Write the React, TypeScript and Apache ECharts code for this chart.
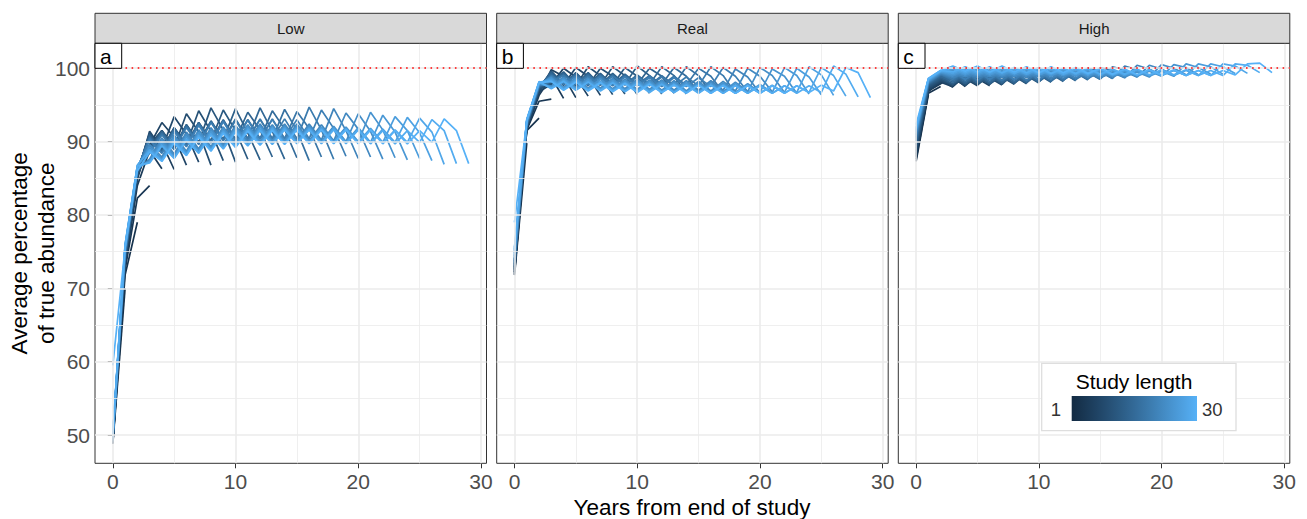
import React, { useEffect, useRef } from "react";
import * as echarts from "echarts";

// ---------- data ----------
const panelNames = ["Low", "Real", "High"];
const panelTags = ["a", "b", "c"];
const xMajor = [0, 10, 20, 30];
const xMinor = [5, 15, 25];
const yMajor = [50, 60, 70, 80, 90, 100];
const yMinor = [55, 65, 75, 85, 95];
const referenceLevel = 100;
const legendTitle = "Study length";
const legendRange = [1, 30];

// each row = one study length (1..30); value index = years from end of study
const lowLines: number[][] = [
  [48.8],
  [48.8, 70.0],
  [48.9, 71.8, 79.0],
  [49.0, 72.5, 82.3, 84.0],
  [49.0, 73.0, 84.0, 88.8, 86.3],
  [49.1, 73.4, 84.8, 90.8, 89.8, 86.2],
  [49.0, 73.6, 85.2, 89.5, 92.6, 90.6, 86.8],
  [49.2, 73.8, 85.5, 91.4, 89.0, 93.4, 91.0, 87.2],
  [49.1, 74.0, 85.4, 89.6, 91.5, 89.2, 93.8, 91.3, 86.8],
  [49.3, 74.2, 85.8, 91.2, 88.8, 91.9, 89.6, 94.2, 91.4, 87.4],
  [49.2, 74.0, 85.6, 89.3, 91.5, 89.2, 92.3, 89.9, 94.6, 91.6, 87.2],
  [49.4, 74.4, 86.0, 91.0, 88.8, 91.9, 89.6, 92.6, 90.1, 94.3, 91.5, 87.6],
  [49.3, 74.3, 85.9, 89.0, 91.4, 89.2, 92.3, 89.9, 92.8, 90.3, 94.5, 91.2, 87.5],
  [49.5, 74.6, 86.1, 90.8, 88.7, 91.8, 89.6, 92.6, 90.1, 93.0, 90.3, 94.0, 91.6, 87.9],
  [49.4, 74.5, 86.0, 88.8, 91.3, 89.1, 92.2, 89.8, 92.8, 90.2, 93.1, 90.4, 94.6, 91.4, 87.6],
  [49.6, 74.8, 86.2, 90.6, 88.6, 91.7, 89.5, 92.5, 90.0, 92.9, 90.3, 93.0, 90.4, 94.2, 91.7, 87.8],
  [49.5, 74.7, 86.1, 88.6, 91.1, 89.0, 92.1, 89.7, 92.7, 90.2, 93.0, 90.3, 93.1, 90.4, 94.4, 91.5, 87.4],
  [49.7, 75.0, 86.3, 90.4, 88.5, 91.5, 89.4, 92.4, 89.9, 92.8, 90.2, 93.0, 90.4, 93.1, 90.4, 94.1, 91.8, 87.9],
  [49.6, 74.9, 86.2, 88.4, 90.9, 88.9, 91.9, 89.6, 92.6, 90.1, 92.9, 90.3, 93.0, 90.4, 93.1, 90.4, 94.7, 91.6, 87.6],
  [49.8, 75.2, 86.4, 90.2, 88.4, 91.3, 89.3, 92.2, 89.8, 92.7, 90.1, 92.9, 90.3, 93.0, 90.4, 93.0, 90.4, 94.3, 91.8, 88.0],
  [49.7, 75.1, 86.3, 87.6, 90.5, 88.3, 91.3, 89.0, 91.9, 89.6, 92.2, 90.0, 92.4, 90.1, 92.4, 90.1, 92.4, 90.2, 94.5, 91.5, 87.7],
  [49.9, 75.4, 86.5, 89.6, 87.9, 90.9, 88.7, 91.6, 89.3, 92.0, 89.8, 92.3, 90.0, 92.3, 90.1, 92.4, 90.1, 92.3, 90.1, 93.9, 91.7, 87.9],
  [49.8, 75.3, 86.4, 87.4, 90.2, 88.1, 91.0, 88.8, 91.7, 89.4, 92.0, 89.8, 92.2, 90.0, 92.2, 90.0, 92.2, 90.0, 92.1, 90.0, 93.8, 91.4, 87.6],
  [50.0, 75.6, 86.6, 89.3, 87.7, 90.6, 88.5, 91.3, 89.1, 91.8, 89.6, 92.1, 89.9, 92.1, 90.0, 92.1, 90.0, 92.0, 90.0, 92.0, 90.0, 94.0, 91.6, 87.8],
  [49.9, 75.5, 86.5, 87.3, 89.9, 87.9, 90.7, 88.6, 91.4, 89.2, 91.8, 89.6, 92.0, 89.8, 92.0, 89.9, 92.0, 89.9, 91.9, 89.9, 91.9, 89.9, 93.6, 91.3, 87.5],
  [50.1, 75.8, 86.7, 89.0, 87.5, 90.3, 88.3, 91.0, 88.9, 91.5, 89.4, 91.8, 89.7, 91.9, 89.8, 91.9, 89.9, 91.9, 89.9, 91.8, 89.9, 91.8, 89.9, 93.4, 91.5, 87.7],
  [50.0, 75.7, 86.6, 87.2, 89.6, 87.8, 90.4, 88.5, 91.1, 89.1, 91.5, 89.5, 91.7, 89.7, 91.8, 89.8, 91.8, 89.8, 91.8, 89.8, 91.7, 89.8, 91.7, 89.9, 93.3, 91.2, 87.4],
  [50.2, 76.0, 86.8, 88.8, 87.4, 90.0, 88.2, 90.8, 88.8, 91.3, 89.3, 91.6, 89.6, 91.7, 89.7, 91.7, 89.8, 91.7, 89.8, 91.7, 89.8, 91.6, 89.8, 91.6, 89.9, 93.2, 91.3, 86.9],
  [50.1, 75.9, 86.7, 87.1, 89.4, 87.7, 90.2, 88.4, 90.9, 89.0, 91.3, 89.4, 91.5, 89.6, 91.6, 89.7, 91.6, 89.7, 91.6, 89.7, 91.6, 89.7, 91.5, 89.7, 91.5, 89.9, 93.0, 91.5, 87.0],
  [59.5, 75.5, 86.0, 88.6, 87.3, 89.8, 88.1, 90.6, 88.7, 91.1, 89.2, 91.4, 89.5, 91.5, 89.6, 91.6, 89.7, 91.6, 89.7, 91.6, 89.7, 91.6, 89.7, 91.5, 89.7, 91.5, 89.9, 93.1, 91.5, 87.0],
];

const realLines: number[][] = [
  [71.8],
  [71.8, 89.8],
  [72.0, 91.5, 93.2],
  [72.2, 91.6, 95.5, 95.8],
  [72.3, 91.7, 96.3, 98.8, 95.9],
  [72.5, 91.8, 96.6, 99.8, 98.9, 96.0],
  [72.6, 91.9, 96.8, 97.8, 100.0, 98.8, 96.2],
  [72.7, 92.0, 97.0, 99.4, 97.7, 100.1, 98.9, 96.3],
  [72.8, 92.0, 97.1, 97.9, 99.3, 97.6, 100.2, 99.0, 96.4],
  [72.9, 92.1, 97.2, 99.5, 97.7, 99.3, 97.6, 100.0, 98.9, 96.5],
  [73.0, 92.1, 97.3, 98.0, 99.4, 97.6, 99.3, 97.7, 100.2, 99.0, 96.4],
  [73.1, 92.2, 97.3, 99.6, 97.8, 99.4, 97.7, 99.3, 97.7, 100.1, 98.9, 96.6],
  [73.2, 92.2, 97.4, 98.1, 99.5, 97.7, 99.4, 97.7, 99.3, 97.8, 100.3, 99.0, 96.5],
  [73.3, 92.3, 97.4, 99.4, 97.9, 99.3, 97.8, 99.2, 97.8, 99.2, 97.8, 100.0, 98.9, 96.6],
  [73.4, 92.3, 97.5, 98.2, 99.3, 97.8, 99.2, 97.8, 99.1, 97.8, 99.1, 97.8, 100.2, 99.0, 96.5],
  [73.5, 92.4, 97.5, 99.2, 97.9, 99.2, 97.8, 99.1, 97.8, 99.1, 97.8, 99.0, 97.8, 100.1, 98.9, 96.7],
  [73.6, 92.4, 97.6, 98.2, 99.1, 97.8, 99.1, 97.8, 99.0, 97.8, 99.0, 97.7, 99.0, 97.7, 100.2, 99.0, 96.6],
  [73.7, 92.5, 97.6, 99.0, 97.9, 99.0, 97.8, 99.0, 97.7, 98.9, 97.7, 98.9, 97.7, 98.9, 97.7, 100.0, 98.9, 96.7],
  [73.8, 92.5, 97.7, 98.2, 99.0, 97.8, 98.9, 97.7, 98.9, 97.7, 98.8, 97.6, 98.8, 97.6, 98.8, 97.6, 100.2, 99.0, 96.6],
  [73.9, 92.6, 97.7, 98.9, 97.8, 98.9, 97.7, 98.8, 97.6, 98.8, 97.6, 98.7, 97.5, 98.7, 97.5, 98.7, 97.5, 100.1, 98.9, 96.8],
  [74.0, 92.6, 97.8, 97.6, 98.8, 97.4, 98.7, 97.3, 98.6, 97.2, 98.5, 97.1, 98.4, 97.0, 98.3, 97.0, 98.3, 97.0, 99.9, 98.8, 96.6],
  [74.2, 92.7, 97.8, 98.8, 97.4, 98.7, 97.3, 98.6, 97.2, 98.5, 97.1, 98.4, 97.0, 98.3, 96.9, 98.2, 96.9, 98.2, 96.9, 100.0, 98.9, 96.8],
  [74.4, 92.7, 97.9, 97.5, 98.7, 97.3, 98.6, 97.2, 98.5, 97.1, 98.4, 97.0, 98.3, 96.9, 98.2, 96.8, 98.1, 96.8, 98.1, 96.8, 100.1, 99.0, 96.7],
  [74.6, 92.8, 97.9, 98.7, 97.3, 98.6, 97.2, 98.5, 97.1, 98.3, 97.0, 98.2, 96.9, 98.1, 96.8, 98.0, 96.7, 98.0, 96.7, 97.9, 96.7, 99.9, 98.9, 96.6],
  [74.8, 92.8, 98.0, 97.4, 98.5, 97.2, 98.4, 97.1, 98.3, 97.0, 98.2, 96.9, 98.1, 96.8, 98.0, 96.7, 97.9, 96.7, 97.9, 96.7, 97.8, 96.7, 100.1, 99.0, 96.5],
  [75.0, 92.9, 98.0, 98.5, 97.2, 98.4, 97.1, 98.2, 97.0, 98.1, 96.9, 98.0, 96.8, 97.9, 96.7, 97.8, 96.7, 97.8, 96.6, 97.7, 96.6, 97.7, 96.7, 100.0, 98.8, 96.4],
  [75.2, 92.9, 98.1, 97.3, 98.3, 97.1, 98.2, 97.0, 98.1, 96.9, 98.0, 96.8, 97.9, 96.7, 97.8, 96.7, 97.7, 96.6, 97.7, 96.6, 97.6, 96.6, 97.6, 96.7, 100.2, 99.1, 96.3],
  [75.4, 93.0, 98.1, 98.3, 97.1, 98.2, 97.0, 98.1, 96.9, 98.0, 96.8, 97.9, 96.7, 97.8, 96.7, 97.7, 96.6, 97.7, 96.6, 97.6, 96.6, 97.6, 96.6, 97.6, 96.7, 100.1, 99.0, 96.2],
  [75.6, 93.0, 98.2, 97.2, 98.2, 97.0, 98.1, 96.9, 98.0, 96.8, 97.9, 96.7, 97.8, 96.7, 97.7, 96.6, 97.7, 96.6, 97.6, 96.6, 97.6, 96.6, 97.6, 96.6, 97.6, 96.7, 100.3, 99.2, 96.1],
  [79.0, 92.8, 98.0, 98.2, 97.0, 98.1, 96.9, 98.0, 96.8, 97.9, 96.7, 97.8, 96.7, 97.7, 96.6, 97.7, 96.6, 97.6, 96.6, 97.6, 96.6, 97.6, 96.6, 97.6, 96.7, 97.7, 96.9, 100.1, 99.4, 96.0],
];

const highLines: number[][] = [
  [87.3],
  [87.3, 96.4],
  [87.6, 96.6, 97.5],
  [87.9, 96.8, 98.4, 97.4],
  [88.1, 96.9, 97.9, 98.9, 97.5],
  [88.3, 97.0, 98.0, 99.0, 98.6, 97.6],
  [88.5, 97.1, 98.1, 97.5, 99.0, 98.6, 97.6],
  [88.7, 97.2, 98.2, 98.6, 97.6, 99.1, 98.7, 97.7],
  [88.9, 97.3, 98.3, 97.7, 98.7, 97.7, 99.2, 98.8, 97.8],
  [89.1, 97.4, 98.4, 98.8, 97.7, 98.8, 97.8, 99.3, 98.9, 97.9],
  [89.3, 97.5, 98.5, 97.8, 98.8, 97.8, 98.9, 97.8, 99.4, 99.0, 98.0],
  [89.5, 97.6, 98.6, 98.9, 97.9, 98.9, 97.9, 98.9, 97.9, 99.5, 99.1, 98.1],
  [89.7, 97.7, 98.7, 97.9, 99.0, 98.0, 99.0, 98.0, 99.0, 98.0, 99.6, 99.2, 98.2],
  [89.9, 97.8, 98.8, 99.1, 98.0, 99.1, 98.0, 99.1, 98.0, 99.1, 98.1, 99.7, 99.3, 98.3],
  [90.1, 97.8, 98.9, 98.1, 99.2, 98.1, 99.2, 98.1, 99.2, 98.1, 99.2, 98.2, 99.8, 99.4, 98.4],
  [90.3, 97.9, 99.0, 99.3, 98.2, 99.2, 98.2, 99.2, 98.2, 99.2, 98.2, 99.3, 98.3, 99.9, 99.5, 98.5],
  [90.5, 98.0, 99.1, 98.3, 99.3, 98.3, 99.3, 98.3, 99.3, 98.3, 99.3, 98.3, 99.3, 98.4, 100.0, 99.6, 98.6],
  [90.6, 98.0, 99.1, 99.4, 98.4, 99.4, 98.4, 99.4, 98.4, 99.4, 98.4, 99.4, 98.4, 99.4, 98.5, 100.1, 99.7, 98.7],
  [90.8, 98.1, 99.2, 98.5, 99.5, 98.4, 99.4, 98.4, 99.4, 98.4, 99.4, 98.5, 99.4, 98.5, 99.4, 98.5, 100.2, 99.8, 98.8],
  [90.9, 98.1, 99.2, 99.5, 98.5, 99.5, 98.5, 99.5, 98.5, 99.5, 98.5, 99.5, 98.6, 99.5, 98.6, 99.5, 98.6, 100.3, 99.8, 98.9],
  [91.0, 98.2, 99.3, 98.7, 99.4, 98.7, 99.4, 98.7, 99.4, 98.7, 99.4, 98.7, 99.4, 98.7, 99.4, 98.7, 99.4, 98.7, 100.4, 99.9, 99.0],
  [91.2, 98.2, 99.3, 99.5, 98.8, 99.5, 98.8, 99.5, 98.8, 99.5, 98.8, 99.5, 98.8, 99.5, 98.8, 99.5, 98.8, 99.5, 98.8, 100.4, 99.9, 99.0],
  [91.3, 98.3, 99.4, 98.9, 99.6, 98.9, 99.6, 98.9, 99.6, 98.9, 99.6, 98.9, 99.6, 98.9, 99.6, 98.8, 99.5, 98.8, 99.5, 98.8, 100.5, 100.0, 99.1],
  [91.4, 98.3, 99.4, 99.7, 99.0, 99.7, 99.0, 99.7, 99.0, 99.7, 99.0, 99.7, 99.0, 99.6, 98.9, 99.6, 98.9, 99.6, 98.9, 99.6, 98.9, 100.5, 100.1, 99.1],
  [91.5, 98.4, 99.5, 99.1, 99.8, 99.1, 99.8, 99.1, 99.8, 99.1, 99.8, 99.0, 99.7, 99.0, 99.7, 99.0, 99.7, 99.0, 99.6, 98.9, 99.6, 98.9, 100.6, 100.1, 99.2],
  [91.6, 98.4, 99.5, 99.9, 99.2, 99.9, 99.2, 99.9, 99.2, 99.9, 99.1, 99.8, 99.1, 99.8, 99.1, 99.8, 99.0, 99.7, 99.0, 99.7, 99.0, 99.7, 99.0, 100.6, 100.2, 99.2],
  [91.7, 98.5, 99.6, 99.3, 100.0, 99.3, 100.0, 99.3, 100.0, 99.2, 99.9, 99.2, 99.9, 99.2, 99.9, 99.1, 99.8, 99.1, 99.8, 99.0, 99.7, 99.0, 99.7, 99.0, 100.6, 100.2, 99.3],
  [91.8, 98.5, 99.6, 100.1, 99.4, 100.1, 99.4, 100.1, 99.3, 100.0, 99.3, 100.0, 99.2, 99.9, 99.2, 99.9, 99.1, 99.8, 99.1, 99.8, 99.0, 99.7, 99.0, 99.7, 99.0, 100.6, 100.3, 99.3],
  [91.9, 98.6, 99.7, 99.5, 100.2, 99.5, 100.2, 99.4, 100.1, 99.4, 100.1, 99.3, 100.0, 99.3, 100.0, 99.2, 99.9, 99.2, 99.9, 99.1, 99.8, 99.1, 99.8, 99.0, 99.7, 99.0, 100.6, 100.4, 99.4],
  [92.3, 98.6, 99.7, 100.3, 99.6, 100.3, 99.5, 100.3, 99.5, 100.2, 99.4, 100.2, 99.4, 100.1, 99.3, 100.0, 99.2, 99.9, 99.1, 99.8, 99.1, 99.8, 99.0, 99.7, 99.0, 99.7, 99.1, 100.6, 100.7, 99.4],
];

const panelData = [lowLines, realLines, highLines];

// ---------- style ----------
const FONT = "'Liberation Sans', Arial, Helvetica, sans-serif";
const LOW_COL = "#132B43";
const HIGH_COL = "#56B1F7";
const GRID_LEFT = [95, 496.7, 898.3];
const GRID_TOP = 43.3;
const GRID_W = 391.5;
const GRID_H = 420;
const STRIP_TOP = 13.3;

function toLab(hex: string): number[] {
  const c = [1, 3, 5].map((i) => parseInt(hex.slice(i, i + 2), 16) / 255);
  const lin = c.map((v) => (v <= 0.04045 ? v / 12.92 : Math.pow((v + 0.055) / 1.055, 2.4)));
  const [R, G, B] = lin;
  const X = (0.4124 * R + 0.3576 * G + 0.1805 * B) / 0.95047;
  const Y = 0.2126 * R + 0.7152 * G + 0.0722 * B;
  const Z = (0.0193 * R + 0.1192 * G + 0.9505 * B) / 1.08883;
  const f = (t: number) => (t > 0.008856 ? Math.cbrt(t) : 7.787 * t + 16 / 116);
  return [116 * f(Y) - 16, 500 * (f(X) - f(Y)), 200 * (f(Y) - f(Z))];
}
function fromLab(lab: number[]): string {
  const [L, a, b] = lab;
  const fy = (L + 16) / 116;
  const fx = fy + a / 500;
  const fz = fy - b / 200;
  const finv = (t: number) => (t * t * t > 0.008856 ? t * t * t : (t - 16 / 116) / 7.787);
  const X = finv(fx) * 0.95047;
  const Y = finv(fy);
  const Z = finv(fz) * 1.08883;
  const rgb = [
    3.2406 * X - 1.5372 * Y - 0.4986 * Z,
    -0.9689 * X + 1.8758 * Y + 0.0415 * Z,
    0.0557 * X - 0.204 * Y + 1.057 * Z,
  ].map((v) => {
    const g = v <= 0.0031308 ? 12.92 * v : 1.055 * Math.pow(v, 1 / 2.4) - 0.055;
    const n = Math.round(Math.max(0, Math.min(1, g)) * 255);
    return n.toString(16).padStart(2, "0");
  });
  return "#" + rgb.join("");
}
const labLo = toLab(LOW_COL);
const labHi = toLab(HIGH_COL);
function colorAt(t: number): string {
  return fromLab(labLo.map((v, i) => v + (labHi[i] - v) * t));
}

export default function App() {
  const ref = useRef<HTMLDivElement>(null);
  useEffect(() => {
    if (!ref.current) return;
    const chart = echarts.init(ref.current, undefined, { renderer: "svg" });

    const grids = panelNames.map((_, i) => ({
      left: GRID_LEFT[i],
      top: GRID_TOP,
      width: GRID_W,
      height: GRID_H,
      show: true,
      backgroundColor: "#ffffff",
      borderColor: "#333333",
      borderWidth: 1,
    }));

    const xAxes = panelNames.map((_, i) => ({
      type: "value",
      gridIndex: i,
      min: -1.45,
      max: 30.45,
      axisLine: { show: false },
      splitLine: { show: false },
      axisTick: { show: true, customValues: xMajor, length: 5, lineStyle: { color: "#333333", width: 1 } },
      axisLabel: { customValues: xMajor, color: "#4d4d4d", fontSize: 21, fontFamily: FONT, margin: 8 },
    }));
    const yAxes = panelNames.map((_, i) => ({
      type: "value",
      gridIndex: i,
      min: 46.15,
      max: 103.4,
      axisLine: { show: false },
      splitLine: { show: false },
      axisTick: { show: i === 0, customValues: yMajor, length: 5, lineStyle: { color: "#333333", width: 1 } },
      axisLabel: { show: i === 0, customValues: yMajor, color: "#4d4d4d", fontSize: 21, fontFamily: FONT, margin: 5 },
    }));

    const series: any[] = [];
    panelNames.forEach((_, p) => {
      const gl = (v: number, axis: string, w: number) => ({
        [axis]: v,
        lineStyle: { color: "#ebebeb", width: w, type: "solid" },
      });
      series.push({
        type: "line",
        xAxisIndex: p,
        yAxisIndex: p,
        data: [],
        silent: true,
        z: 1,
        markLine: {
          silent: true,
          symbol: ["none", "none"],
          label: { show: false },
          animation: false,
          data: [
            ...xMinor.map((v) => gl(v, "xAxis", 0.8)),
            ...yMinor.map((v) => gl(v, "yAxis", 0.8)),
            ...xMajor.map((v) => gl(v, "xAxis", 1.6)),
            ...yMajor.map((v) => gl(v, "yAxis", 1.6)),
          ],
        },
      });
      panelData[p].forEach((vals, li) => {
        const t = li / 29;
        series.push({
          type: "line",
          xAxisIndex: p,
          yAxisIndex: p,
          data: vals.map((v, x) => [x, v]),
          showSymbol: false,
          symbol: "none",
          silent: true,
          z: 2,
          lineStyle: { color: colorAt(t), width: 1.7 },
        });
      });
      series.push({
        type: "line",
        xAxisIndex: p,
        yAxisIndex: p,
        data: [],
        silent: true,
        z: 3,
        markLine: {
          silent: true,
          symbol: ["none", "none"],
          label: { show: false },
          animation: false,
          data: [{ yAxis: referenceLevel, lineStyle: { color: "#ff0000", width: 1.6, type: [1.6, 4.5] } }],
        },
      });
    });

    const graphics: any[] = [];
    panelNames.forEach((name, i) => {
      graphics.push({
        type: "rect",
        z: 10,
        shape: { x: GRID_LEFT[i], y: STRIP_TOP, width: GRID_W, height: GRID_TOP - STRIP_TOP },
        style: { fill: "#d9d9d9", stroke: "#333333", lineWidth: 1 },
      });
      graphics.push({
        type: "text",
        z: 11,
        x: GRID_LEFT[i] + GRID_W / 2,
        y: (STRIP_TOP + GRID_TOP) / 2 + 0.5,
        style: { text: name, fontSize: 15, fontFamily: FONT, fill: "#1a1a1a", align: "center", verticalAlign: "middle" },
      });
      graphics.push({
        type: "rect",
        z: 10,
        shape: { x: GRID_LEFT[i], y: GRID_TOP, width: 26.7, height: 25 },
        style: { fill: "#ffffff", stroke: "#000000", lineWidth: 1 },
      });
      graphics.push({
        type: "text",
        z: 11,
        x: GRID_LEFT[i] + 5,
        y: GRID_TOP + 13,
        style: { text: panelTags[i], fontSize: 21, fontFamily: FONT, fill: "#000000", align: "left", verticalAlign: "middle" },
      });
    });
    graphics.push({
      type: "text",
      z: 11,
      x: 692,
      y: 507,
      style: { text: "Years from end of study", fontSize: 22.5, fontFamily: FONT, fill: "#000000", align: "center", verticalAlign: "middle" },
    });
    graphics.push({
      type: "text",
      z: 11,
      x: 19,
      y: GRID_TOP + GRID_H / 2,
      rotation: Math.PI / 2,
      style: { text: "Average percentage", fontSize: 22.5, fontFamily: FONT, fill: "#000000", align: "center", verticalAlign: "middle" },
    });
    graphics.push({
      type: "text",
      z: 11,
      x: 46,
      y: GRID_TOP + GRID_H / 2,
      rotation: Math.PI / 2,
      style: { text: "of true abundance", fontSize: 22.5, fontFamily: FONT, fill: "#000000", align: "center", verticalAlign: "middle" },
    });
    const stops = Array.from({ length: 11 }, (_, k) => ({ offset: k / 10, color: colorAt(k / 10) }));
    graphics.push({
      type: "rect",
      z: 10,
      shape: { x: 1041.7, y: 363.3, width: 194.3, height: 67.4 },
      style: { fill: "#ffffff", stroke: "#dedede", lineWidth: 1.3 },
    });
    graphics.push({
      type: "text",
      z: 11,
      x: 1134,
      y: 381,
      style: { text: legendTitle, fontSize: 21, fontFamily: FONT, fill: "#000000", align: "center", verticalAlign: "middle" },
    });
    graphics.push({
      type: "rect",
      z: 11,
      shape: { x: 1071.7, y: 396, width: 125.3, height: 25 },
      style: { fill: new echarts.graphic.LinearGradient(0, 0, 1, 0, stops), stroke: "none" },
    });
    graphics.push({
      type: "text",
      z: 11,
      x: 1061,
      y: 409,
      style: { text: String(legendRange[0]), fontSize: 18.5, fontFamily: FONT, fill: "#333333", align: "right", verticalAlign: "middle" },
    });
    graphics.push({
      type: "text",
      z: 11,
      x: 1202,
      y: 409,
      style: { text: String(legendRange[1]), fontSize: 18.5, fontFamily: FONT, fill: "#333333", align: "left", verticalAlign: "middle" },
    });

    chart.setOption({
      animation: false,
      backgroundColor: "#ffffff",
      grid: grids,
      xAxis: xAxes,
      yAxis: yAxes,
      series,
      graphic: graphics,
    });
    return () => chart.dispose();
  }, []);

  return <div ref={ref} style={{ position: "absolute", left: 0, top: 0, width: 1307, height: 519 }} />;
}
